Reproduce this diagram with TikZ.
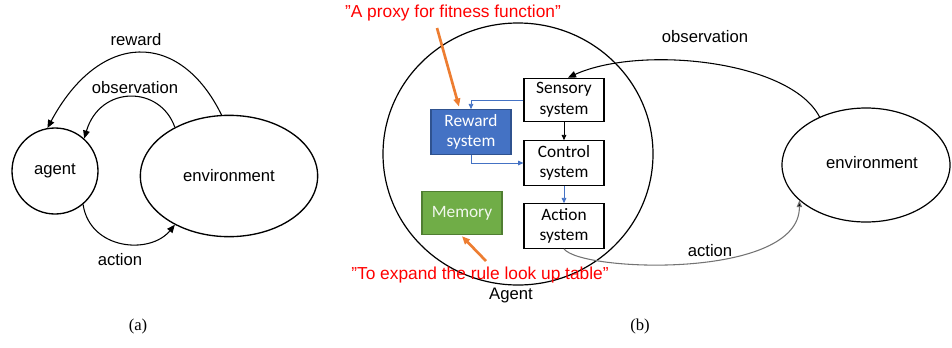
\documentclass[tikz,border=0pt]{standalone}
\usepackage{fontspec}
\setmainfont{Liberation Sans}
\newfontfamily\calfont{Carlito}
\newfontfamily\capfont{Liberation Serif}
\usetikzlibrary{arrows.meta,shapes.geometric}
\definecolor{boxblue}{HTML}{4472C4}
\definecolor{boxblueline}{HTML}{2F528F}
\definecolor{boxgreen}{HTML}{70AD47}
\definecolor{boxgreenline}{HTML}{507E32}
\definecolor{noteorange}{HTML}{ED7D31}

\begin{document}
\begin{tikzpicture}[x=0.75pt, y=-0.75pt,
    font=\fontsize{12.5}{14}\selectfont,
    flow/.style={-{Triangle[length=6pt,width=5pt]}, line width=0.8pt},
    sysbox/.style={draw, line width=0.9pt, minimum width=60pt, minimum height=32pt,
        align=center, font=\calfont\fontsize{13}{15.5}\selectfont},
    link/.style={-{Triangle[length=4pt,width=3.5pt]}, line width=0.6pt},
    note/.style={text=red, font=\fontsize{13}{15}\selectfont},
    notearrow/.style={-{Triangle[length=6pt,width=5pt]}, line width=2pt, draw=noteorange}]
    \useasboundingbox (0,0) rectangle (952,347);

    % (a)
    \node[circle, draw, line width=1pt, minimum size=64.5pt] (agent) at (55,171) {agent};
    \node[ellipse, draw, line width=1pt, minimum width=133pt, minimum height=91pt] (env) at (229,176) {environment};
    \draw[flow] (env.97) .. controls (180,30) and (100,30) .. (agent.100);
    \draw[flow] (env.138) .. controls (160,85) and (100,85) .. (agent.48);
    \draw[flow] (agent.-50) .. controls (90,250) and (150,255) .. (env.222);
    \node (rewardlbl) at (136,40) {reward};
    \node (obslbl) at (135,88) {observation};
    \node (actlbl) at (120,260) {action};
    \node[font=\capfont\fontsize{12.5}{14}\selectfont] (capa) at (138,326) {(a)};

    % (b)
    \node[ellipse, draw, line width=0.9pt, minimum width=202.5pt, minimum height=196.5pt] (agentb) at (518,154) {};
    \node (agentlbl) at (511,295) {Agent};
    \node[sysbox] (sensory) at (564,100) {Sensory\\system};
    \node[sysbox] (control) at (564,163) {Control\\system};
    \node[sysbox] (action) at (564,226) {Action\\system};
    \node[sysbox, fill=boxblue, draw=boxblueline, text=white] (reward) at (471,132) {Reward\\system};
    \node[sysbox, fill=boxgreen, draw=boxgreenline, text=white!90!boxgreen] (memory) at (462,213) {Memory};
    \draw[link] (sensory) -- (control);
    \draw[link, draw=boxblue] (control) -- (action);
    \draw[link, draw=boxblue] (sensory.west) -| (reward.north);
    \draw[link, draw=boxblue] (reward.south) |- (control.west);

    \node[ellipse, draw, line width=0.9pt, minimum width=126pt, minimum height=85.5pt] (envb) at (866,165) {};
    \node (envblbl) at (872,163) {environment};
    \draw[flow] (envb.134) .. controls (790,60) and (640,45) .. ([xshift=3pt]sensory.north);
    \draw[flow, draw=black!55, -{Triangle[length=5pt,width=4pt,fill=black]}] (action.south) .. controls (580,272) and (800,280) .. (envb.208);
    \node (obsblbl) at (705,37) {observation};
    \node (actblbl) at (710,251) {action};

    \node[note] (proxynote) at (453,13) {”A proxy for fitness function”};
    \node[note] (tablenote) at (480,275) {”To expand the rule look up table”};
    \coordinate (proxystart) at (437,28);
    \coordinate (tablestart) at (486,261);
    \draw[notearrow] (proxystart) -- ([xshift=-9pt,yshift=2pt]reward.north);
    \draw[notearrow] (tablestart) -- ([yshift=-1pt]memory.south);
    \node[font=\capfont\fontsize{12.5}{14}\selectfont] (capb) at (640,326) {(b)};
\end{tikzpicture}
\end{document}
